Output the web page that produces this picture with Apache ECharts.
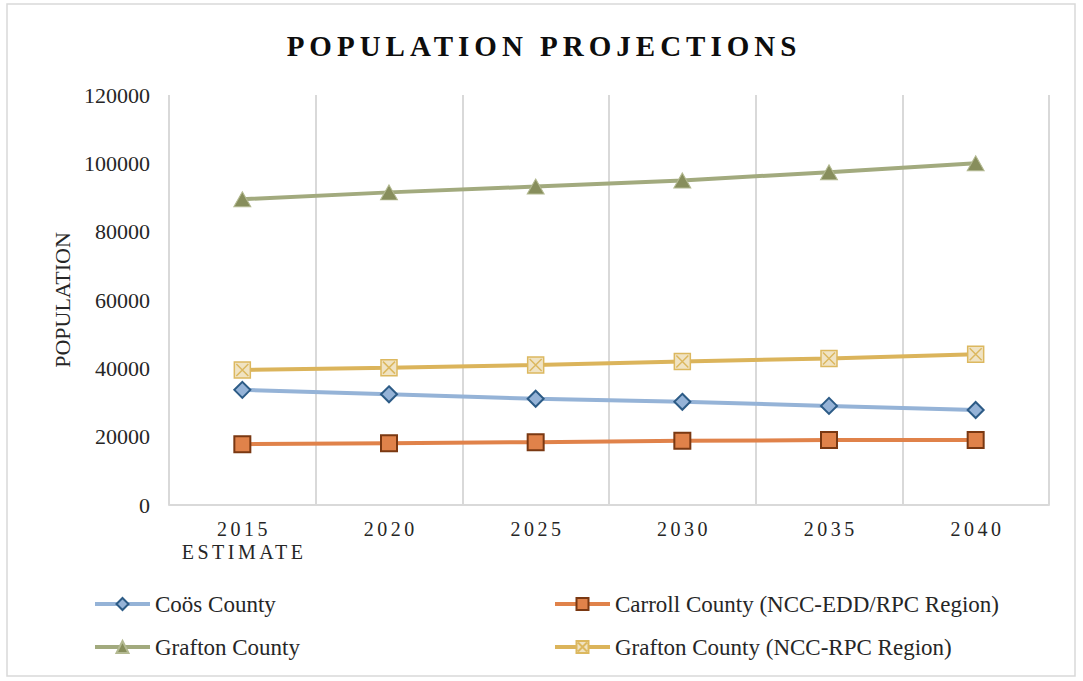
<!DOCTYPE html>
<html>
<head>
<meta charset="utf-8">
<script src="https://cdn.jsdelivr.net/npm/echarts@6/dist/echarts.min.js"></script>
<style>
  html, body { margin: 0; padding: 0; background: #ffffff; }
  #chart { width: 1083px; height: 681px; }
</style>
</head>
<body>
<div id="chart"></div>
<script>
// Population projections by county, 2015 estimate through 2040
const titleText = 'POPULATION PROJECTIONS';
const categories = ['2015\nESTIMATE', '2020', '2025', '2030', '2035', '2040'];
const coos = [33700, 32400, 31100, 30200, 29000, 27800];
const carroll = [17800, 18100, 18400, 18800, 19000, 19000];
const grafton = [89500, 91500, 93200, 95000, 97400, 100000];
const graftonRpc = [39500, 40200, 41000, 42000, 42900, 44100];
const seriesNames = [
  'Coös County',
  'Carroll County (NCC-EDD/RPC Region)',
  'Grafton County',
  'Grafton County (NCC-RPC Region)'
];
const yMin = 0, yMax = 120000, yStep = 20000;

const FONT = "'Liberation Serif', 'DejaVu Serif', serif";
const chart = echarts.init(document.getElementById('chart'), null, { renderer: 'svg' });

const legendBase = {
  orient: 'vertical', top: 592, padding: 0,
  itemWidth: 55, itemHeight: 15, itemGap: 19,
  lineStyle: { width: 4 },
  textStyle: { fontFamily: FONT, fontSize: 23, color: '#262626', lineHeight: 24 }
};

const option = {
  animation: false,
  title: {
    text: titleText,
    left: 'center',
    top: 26,
    textStyle: { fontFamily: FONT, fontSize: 29, fontWeight: 'bold', color: '#0d0d0d' }
  },
  graphic: [{
    type: 'rect',
    shape: { x: 7, y: 4, width: 1068, height: 672 },
    style: { fill: 'none', stroke: '#d9d9d9', lineWidth: 1.5 },
    silent: true
  }],
  grid: { left: 169, right: 34, top: 95, bottom: 176 },
  xAxis: {
    type: 'category',
    data: categories,
    boundaryGap: true,
    axisLine: { lineStyle: { color: '#d9d9d9', width: 2 } },
    axisTick: { show: false },
    splitLine: { show: true, lineStyle: { color: '#d9d9d9', width: 2 } },
    axisLabel: {
      fontFamily: FONT, fontSize: 20, color: '#262626', margin: 12, lineHeight: 23
    }
  },
  yAxis: {
    type: 'value',
    min: yMin, max: yMax, interval: yStep,
    name: 'POPULATION',
    nameLocation: 'middle',
    nameGap: 96,
    nameTextStyle: { fontFamily: FONT, fontSize: 22, color: '#262626' },
    axisLine: { show: false },
    axisTick: { show: false },
    splitLine: { show: false },
    axisLabel: {
      fontFamily: FONT, fontSize: 22, color: '#262626', margin: 19,
      formatter: v => String(v)
    }
  },
  legend: [
    Object.assign({}, legendBase, { left: 93, data: [seriesNames[0], seriesNames[2]] }),
    Object.assign({}, legendBase, { left: 553, data: [seriesNames[1], seriesNames[3]] })
  ],
  series: [
    {
      name: seriesNames[0], type: 'line', data: coos,
      symbol: 'diamond', symbolSize: 16,
      lineStyle: { color: '#95b3d7', width: 4 },
      itemStyle: { color: '#95b3d7', borderColor: '#2c5b86', borderWidth: 2 }
    },
    {
      name: seriesNames[1], type: 'line', data: carroll,
      symbol: 'rect', symbolSize: 16,
      lineStyle: { color: '#e0824a', width: 4 },
      itemStyle: { color: '#e0824a', borderColor: '#7a3812', borderWidth: 2 }
    },
    {
      name: seriesNames[2], type: 'line', data: grafton,
      symbol: 'triangle', symbolSize: [17, 15],
      lineStyle: { color: '#a2aa7e', width: 4 },
      itemStyle: { color: '#878e5c', borderColor: '#b3b991', borderWidth: 1 }
    },
    {
      name: seriesNames[3], type: 'line', data: graftonRpc,
      symbol: 'path://M0,0H16V16H0Z M2,2L14,14 M14,2L2,14', symbolSize: 16,
      lineStyle: { color: '#dbb45b', width: 4 },
      itemStyle: { color: '#f0e3c3', borderColor: '#dcb85f', borderWidth: 1.5 }
    }
  ]
};

chart.setOption(option);

// Spaced lettering for the title and the category labels
const spaced = new Map();
spaced.set(titleText, 5);
categories.forEach(c => c.split('\n').forEach(p => spaced.set(p, 3.5)));

function applySpacing() {
  const svg = document.querySelector('#chart svg');
  if (!svg) return;
  svg.querySelectorAll('text').forEach(t => {
    const s = t.textContent;
    if (spaced.has(s)) {
      const ls = spaced.get(s);
      t.style.letterSpacing = ls + 'px';
      t.setAttribute('dx', ls / 2);
    }
  });
}
chart.on('finished', applySpacing);
setTimeout(applySpacing, 0);
setTimeout(applySpacing, 100);
</script>
</body>
</html>
